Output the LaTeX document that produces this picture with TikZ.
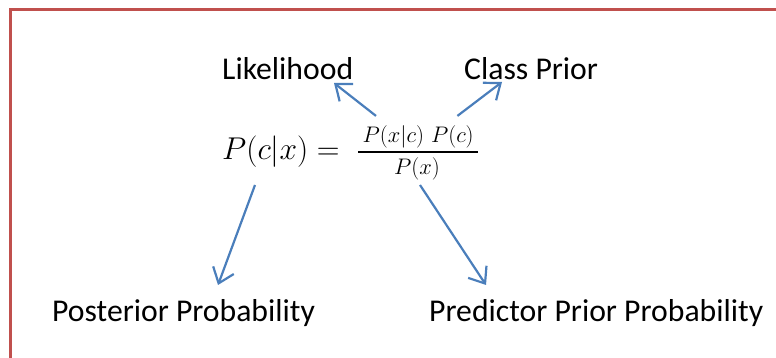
\RequirePackage{fix-cm}
\documentclass[tikz,border=0pt]{standalone}
\usepackage[no-math]{fontspec}
\setmainfont{Carlito}
\usetikzlibrary{arrows.meta}

\definecolor{framered}{HTML}{C0504D}
\definecolor{arrowblue}{HTML}{4A7EBB}

\begin{document}
\begin{tikzpicture}[
    x=1pt, y=1pt,
    frame/.style={draw=framered, line width=3pt},
    termarrow/.style={-{Straight Barb[length=14pt,width=22pt]}, draw=arrowblue, line width=2.2pt},
    fracrule/.style={line width=1.4pt},
    label/.style={anchor=base west, inner sep=0pt, font=\fontsize{31.7}{38}\selectfont},
    bigmath/.style={anchor=base west, inner sep=0pt, font=\fontsize{31.5}{38}\selectfont},
    smallmath/.style={inner sep=0pt, font=\fontsize{22.5}{27}\selectfont}
]
    % Frame
    \useasboundingbox (0,0) rectangle (776,358);
    \draw[frame] (10,0) -- (10,348) -- (776,348);

    % Formula
    \node[bigmath] (lhs) at (222,198) {$P(c|x) =$};
    \node[smallmath, anchor=base west, text width=120pt, align=center] (numer) at (358,215) {$P(x|c)\;P(c)$};
    \node[smallmath, anchor=base] (denom) at (417,183) {$P(x)$};
    \draw[fracrule] ([yshift=-9pt]numer.base west) -- ([yshift=-9pt]numer.base east);

    % Terms
    \node[label] (likelihood) at (222,278) {Likelihood};
    \node[label] (classprior) at (464,278) {Class Prior};
    \node[label] (postprob) at (52,36) {Posterior Probability};
    \node[label] (predprob) at (429,36) {Predictor Prior Probability};

    % Arrows
    \draw[termarrow] ([xshift=18pt,yshift=10pt]numer.north west) -- ([xshift=112pt,yshift=-3pt]likelihood.base west);
    \draw[termarrow] ([xshift=-21pt,yshift=10pt]numer.north east) -- ([xshift=38pt,yshift=-2pt]classprior.base west);
    \draw[termarrow] ([xshift=33pt,yshift=-25pt]lhs.base west) -- ([xshift=166pt,yshift=37pt]postprob.base west);
    \draw[termarrow] ([xshift=3pt,yshift=-10pt]denom.base) -- ([xshift=57pt,yshift=37pt]predprob.base west);
\end{tikzpicture}
\end{document}
